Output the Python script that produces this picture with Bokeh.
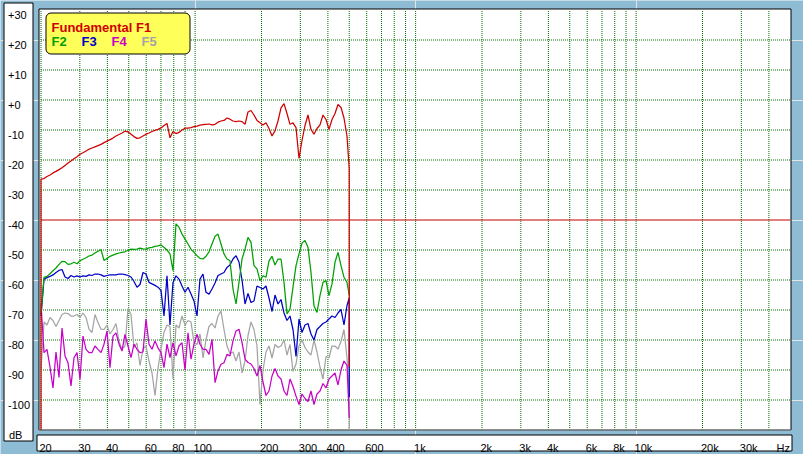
from bokeh.plotting import figure
from bokeh.models import Range1d, Label, BoxAnnotation
from bokeh.embed import file_html
from bokeh.resources import INLINE

# ---------------- data ----------------
FREQ_HZ = [
    20.00, 20.64, 21.29, 21.97, 22.67, 23.39, 24.14, 24.91, 25.70, 26.52,
    27.36, 28.23, 29.13, 30.06, 31.01, 32.00, 33.02, 34.07, 35.15, 36.27,
    37.43, 38.62, 39.85, 41.11, 42.42, 43.77, 45.17, 46.60, 48.08, 49.61,
    51.20, 52.82, 54.50, 56.24, 58.03, 59.87, 61.78, 63.75, 65.77, 67.87,
    70.02, 72.25, 74.55, 76.92, 79.37, 81.90, 84.50, 87.19, 89.97, 92.83,
    95.79, 98.84, 102.0, 105.2, 108.6, 112.0, 115.6, 119.3, 123.1, 127.0,
    131.0, 135.2, 139.5, 143.9, 148.5, 153.3, 158.1, 163.2, 168.4, 173.7,
    179.2, 184.9, 190.8, 196.9, 203.2, 209.6, 216.3, 223.2, 230.3, 237.6,
    245.2, 253.0, 261.0, 269.3, 277.9, 286.8, 295.9, 305.3, 315.0, 325.0,
    335.3, 346.0, 357.0, 368.4, 380.1, 392.2, 404.7, 417.6, 430.9, 444.6,
    458.7, 473.3, 488.4,
]
END_HZ = 500.0

F1_DB = [
    -26.4, -26.2, -25.5, -25.0, -24.3, -23.8, -23.2, -22.6, -21.8, -21.0,
    -20.3, -19.6, -18.9, -18.1, -17.6, -17.0, -16.4, -16.0, -15.6, -15.2,
    -14.8, -14.2, -13.7, -13.2, -12.7, -12.0, -11.5, -11.0, -10.4, -10.6,
    -11.4, -12.2, -12.8, -12.6, -12.0, -11.4, -11.0, -10.5, -10.1, -9.8,
    -9.3, -8.5, -7.8, -12.6, -10.5, -11.2, -10.8, -10.0, -9.4, -9.4,
    -9.2, -8.9, -8.7, -8.4, -8.2, -8.1, -8.0, -8.3, -8.1, -7.4,
    -7.0, -6.8, -6.0, -6.4, -7.0, -7.2, -7.0, -7.2, -8.1, -4.0,
    -3.5, -5.0, -6.8, -7.6, -8.3, -7.6, -9.5, -12.0, -10.3, -7.0,
    -2.6, -1.2, -4.5, -8.1, -7.6, -9.2, -19.5, -13.5, -8.5, -5.0,
    -9.8, -11.4, -9.5, -8.3, -5.0, -6.5, -9.8, -6.5, -4.5, -1.5,
    -2.5, -6.0, -12.0,
]
F1_HEAD_DB = [-110.0]
F1_TAIL_DB = [-23.0, -89.0]

F2_DB = [
    -71.0, -59.1, -58.8, -57.9, -56.9, -56.0, -54.8, -53.8, -53.9, -54.8,
    -54.6, -54.1, -54.6, -53.6, -53.1, -52.6, -52.0, -51.7, -51.0, -50.4,
    -49.9, -53.5, -52.8, -52.1, -51.7, -51.3, -51.0, -50.8, -50.6, -50.1,
    -49.7, -49.8, -49.7, -49.4, -49.6, -49.7, -49.3, -49.1, -48.8, -48.6,
    -48.3, -49.1, -50.0, -51.3, -56.9, -41.3, -42.4, -44.7, -46.3, -48.0,
    -49.7, -50.8, -51.9, -52.8, -53.0, -52.1, -50.6, -48.0, -45.4, -44.7,
    -48.0, -51.3, -53.0, -53.6, -63.0, -68.0, -60.8, -53.0, -49.7, -45.8,
    -47.4, -55.2, -56.3, -60.2, -58.6, -59.1, -53.6, -52.1, -55.0, -53.0,
    -53.0, -60.8, -71.3, -69.7, -62.4, -55.2, -51.3, -47.7, -46.8, -49.1,
    -57.4, -68.6, -70.8, -65.2, -60.8, -60.2, -65.2, -61.3, -54.1, -50.8,
    -55.2, -59.1, -60.8,
]
F2_TAIL_DB = [-65.0]

F3_DB = [
    -72.0, -59.7, -59.2, -58.8, -58.3, -57.5, -56.8, -56.5, -59.0, -59.5,
    -58.5, -59.0, -58.6, -59.0, -58.6, -58.8, -58.3, -58.5, -58.0, -58.0,
    -58.3, -58.8, -58.5, -58.3, -58.3, -58.3, -58.0, -58.0, -58.2, -58.5,
    -59.0, -60.5, -62.4, -61.5, -57.5, -58.0, -60.8, -61.3, -61.8, -62.4,
    -63.5, -72.0, -58.6, -75.0, -60.8, -58.6, -59.7, -62.0, -64.1, -62.4,
    -64.7, -67.0, -72.0, -59.7, -58.0, -64.1, -64.7, -63.0, -61.0, -58.5,
    -58.0, -57.5, -55.8, -55.0, -53.0, -51.9, -54.0, -60.0, -68.0, -64.5,
    -67.5, -67.0, -62.0, -62.5, -63.0, -62.0, -66.0, -70.5, -65.0, -68.0,
    -66.5, -71.0, -73.5, -72.0, -76.5, -85.5, -73.0, -77.5, -75.0, -74.5,
    -78.0, -80.0, -76.5, -75.5, -74.5, -74.0, -73.0, -72.0, -72.5, -71.0,
    -69.8, -75.0, -68.5,
]
F3_TAIL_DB = [-66.0, -99.0]

F4_DB = [
    -68.0, -84.2, -83.1, -89.0, -96.0, -84.0, -92.5, -76.0, -85.3, -87.6,
    -95.3, -85.9, -84.2, -93.1, -78.7, -83.1, -84.2, -84.2, -82.0, -83.1,
    -84.2, -81.4, -77.0, -89.2, -78.7, -77.6, -81.4, -83.7, -78.1, -82.0,
    -85.9, -81.4, -83.1, -84.2, -84.0, -73.0, -81.4, -83.1, -80.3, -82.6,
    -84.2, -89.2, -81.4, -85.9, -80.9, -85.3, -82.0, -80.9, -90.0, -77.6,
    -86.4, -81.4, -78.1, -81.4, -83.1, -83.1, -84.8, -79.8, -94.2, -90.3,
    -88.1, -87.6, -84.8, -85.3, -80.3, -77.0, -76.4, -80.9, -86.4, -87.5,
    -88.0, -89.5, -92.0, -88.5, -94.0, -98.5, -97.0, -92.0, -89.5, -92.0,
    -93.0, -97.0, -98.5, -93.0, -95.5, -98.7, -101.5, -98.0, -99.5, -100.5,
    -97.0, -101.5, -98.0, -97.0, -94.5, -96.0, -93.0, -92.0, -91.0, -95.0,
    -90.0, -87.0, -88.5,
]
F4_TAIL_DB = [-106.0]

F5_DB = [
    -90.0, -74.0, -75.0, -72.5, -73.5, -75.5, -73.5, -71.5, -71.0, -71.2,
    -72.0, -72.0, -71.5, -72.5, -71.0, -72.5, -76.4, -77.5, -71.5, -74.2,
    -76.4, -76.5, -75.0, -78.0, -76.5, -74.5, -80.5, -83.0, -82.0, -69.5,
    -71.5, -82.5, -81.0, -88.5, -83.0, -82.0, -87.0, -91.0, -98.5, -89.5,
    -83.0, -77.5, -75.0, -75.5, -93.0, -75.0, -76.0, -72.0, -75.0, -73.5,
    -74.0, -81.0, -81.5, -78.0, -86.0, -80.0, -75.5, -74.5, -76.0, -72.0,
    -70.3, -76.5, -82.0, -84.5, -84.0, -87.0, -84.0, -91.0, -87.0, -78.5,
    -74.0, -76.5, -82.0, -101.5, -90.0, -84.0, -82.0, -86.0, -81.5, -82.5,
    -82.0, -80.0, -85.0, -81.5, -90.5, -88.0, -82.0, -80.0, -82.5, -84.0,
    -85.0, -80.0, -84.0, -89.0, -93.0, -85.5, -86.0, -82.0, -82.0, -83.0,
    -80.5, -76.5, -86.0,
]
F5_TAIL_DB = [-98.0, -110.0]

SERIES_NAMES = ["Fundamental F1", "F2", "F3", "F4", "F5"]

X_MIN_HZ, X_MAX_HZ = 20, 50000
Y_MIN_DB, Y_MAX_DB = -110, 30
X_TICKS = [20, 30, 40, 60, 80, 100, 200, 300, 400, 600,
           1000, 2000, 3000, 4000, 6000, 8000, 10000, 20000, 30000]
X_TICK_LABELS = ["20", "30", "40", "60", "80", "100", "200", "300", "400", "600",
                 "1k", "2k", "3k", "4k", "6k", "8k", "10k", "20k", "30k"]
X_UNIT = "Hz"
Y_TICKS = [30, 20, 10, 0, -10, -20, -30, -40, -50, -60, -70, -80, -90, -100]
Y_TICK_LABELS = ["+30", "+20", "+10", "+0", "-10", "-20", "-30", "-40",
                 "-50", "-60", "-70", "-80", "-90", "-100"]
Y_UNIT = "dB"
GRID_X = ([20, 30, 40, 50, 60, 70, 80, 90] + [100, 200, 300, 400, 500, 600, 700, 800, 900]
          + [1000, 2000, 3000, 4000, 5000, 6000, 7000, 8000, 9000]
          + [10000, 20000, 30000, 40000])
GRID_Y = [20, 10, 0, -10, -20, -30, -50, -60, -70, -80, -90, -100]
REF_DB = -40

# ---------------- styling ----------------
BG = "#8ebcd4"
GRID_COLOR = "#007000"
COLORS = ["#d00000", "#00a000", "#0000c8", "#c800c8", "#a4a4a4"]
FONT = "Liberation Sans"

# canvas pixel -> data helpers (used only to place decorations)
def hz(px):
    return 20.0 * 10 ** ((px - 40.5) / 220.5)

def db(py):
    return 30.0 - (py - 9.5) / 3.0

W, H = 803, 454
p = figure(width=W, height=H, x_axis_type="log",
           x_range=Range1d(hz(0), hz(W)), y_range=Range1d(db(H), db(0)),
           x_axis_location=None, y_axis_location=None,
           toolbar_location=None, output_backend="svg",
           min_border=0, min_border_left=0, min_border_right=0,
           min_border_top=0, min_border_bottom=0,
           background_fill_color=BG, border_fill_color=BG, outline_line_color=None)

# plot area
p.add_layout(BoxAnnotation(left=hz(38.5), right=hz(790.5), top=db(8.5), bottom=db(429.5),
                           fill_color="white", fill_alpha=1.0, line_color="black",
                           line_alpha=1.0, line_width=1, level="underlay"))
# grid
p.segment(x0=GRID_X, x1=GRID_X, y0=[Y_MIN_DB] * len(GRID_X), y1=[Y_MAX_DB] * len(GRID_X),
          line_color=GRID_COLOR, line_dash="1 1", line_width=1)
p.segment(x0=[X_MIN_HZ] * len(GRID_Y), x1=[X_MAX_HZ] * len(GRID_Y), y0=GRID_Y, y1=GRID_Y,
          line_color=GRID_COLOR, line_dash="1 1", line_width=1)
p.segment(x0=[X_MIN_HZ], x1=[X_MAX_HZ], y0=[REF_DB], y1=[REF_DB],
          line_color="#c00000", line_width=1)
# bottom frame edge (lighter, sunken look)
p.segment(x0=[hz(38.5)], x1=[hz(790.5)], y0=[db(429.5)], y1=[db(429.5)],
          line_color="#a0a0a0", line_width=1)

def line_data(vals, head=(), tail=()):
    xs = [FREQ_HZ[0]] * len(head) + FREQ_HZ + [END_HZ] * len(tail)
    ys = list(head) + list(vals) + list(tail)
    return xs, ys

series = [
    (F5_DB, (), F5_TAIL_DB, COLORS[4]),
    (F4_DB, (), F4_TAIL_DB, COLORS[3]),
    (F3_DB, (), F3_TAIL_DB, COLORS[2]),
    (F2_DB, (), F2_TAIL_DB, COLORS[1]),
    (F1_DB, F1_HEAD_DB, F1_TAIL_DB, COLORS[0]),
]
for vals, head, tail, col in series:
    xs, ys = line_data(vals, head, tail)
    p.line(xs, ys, line_color=col, line_width=1.25, line_join="bevel")

# legend box
p.add_layout(BoxAnnotation(left=hz(45.5), right=hz(189.5), top=db(12.5), bottom=db(53.5),
                           fill_color="#ffff5a", fill_alpha=1.0, line_color="black",
                           line_alpha=1.0, line_width=1, border_radius=5))
p.add_layout(Label(x=hz(51), y=db(27), text=SERIES_NAMES[0], text_color=COLORS[0],
                   text_font=FONT, text_font_size="13px", text_font_style="bold",
                   text_baseline="alphabetic", text_align="left"))
for i, name in enumerate(SERIES_NAMES[1:]):
    p.add_layout(Label(x=hz(51 + 30 * i), y=db(41), text=name, text_color=COLORS[i + 1],
                       text_font=FONT, text_font_size="13px", text_font_style="bold",
                       text_baseline="alphabetic", text_align="left"))

# left tick panel
p.add_layout(BoxAnnotation(left=hz(3.5), right=hz(32.5), top=db(2.5), bottom=db(440.5),
                           fill_color="white", fill_alpha=1.0, line_color="black",
                           line_alpha=1.0, line_width=1))
for t, lab in zip(Y_TICKS, Y_TICK_LABELS):
    p.add_layout(Label(x=hz(7.5), y=t - 1.8, text=lab, text_color="black", text_font=FONT,
                       text_font_size="11px", text_baseline="alphabetic", text_align="left"))
p.add_layout(Label(x=hz(8.5), y=db(434), text=Y_UNIT, text_color="black", text_font=FONT,
                   text_font_size="11px", text_baseline="alphabetic", text_align="left"))

# bottom tick box
p.add_layout(BoxAnnotation(left=hz(36.5), right=hz(791.5), top=db(434.5), bottom=db(450.5),
                           fill_color="white", fill_alpha=1.0, line_color="black",
                           line_alpha=1.0, line_width=1))
for t, lab in zip(X_TICKS, X_TICK_LABELS):
    p.add_layout(Label(x=t, y=db(447), x_offset=-1.5, text=lab, text_color="black",
                       text_font=FONT, text_font_size="11px",
                       text_baseline="alphabetic", text_align="left"))
p.add_layout(Label(x=hz(776), y=db(447), text=X_UNIT, text_color="black", text_font=FONT,
                   text_font_size="11px", text_baseline="alphabetic", text_align="left"))

open("out.html", "w").write(file_html(p, INLINE))
